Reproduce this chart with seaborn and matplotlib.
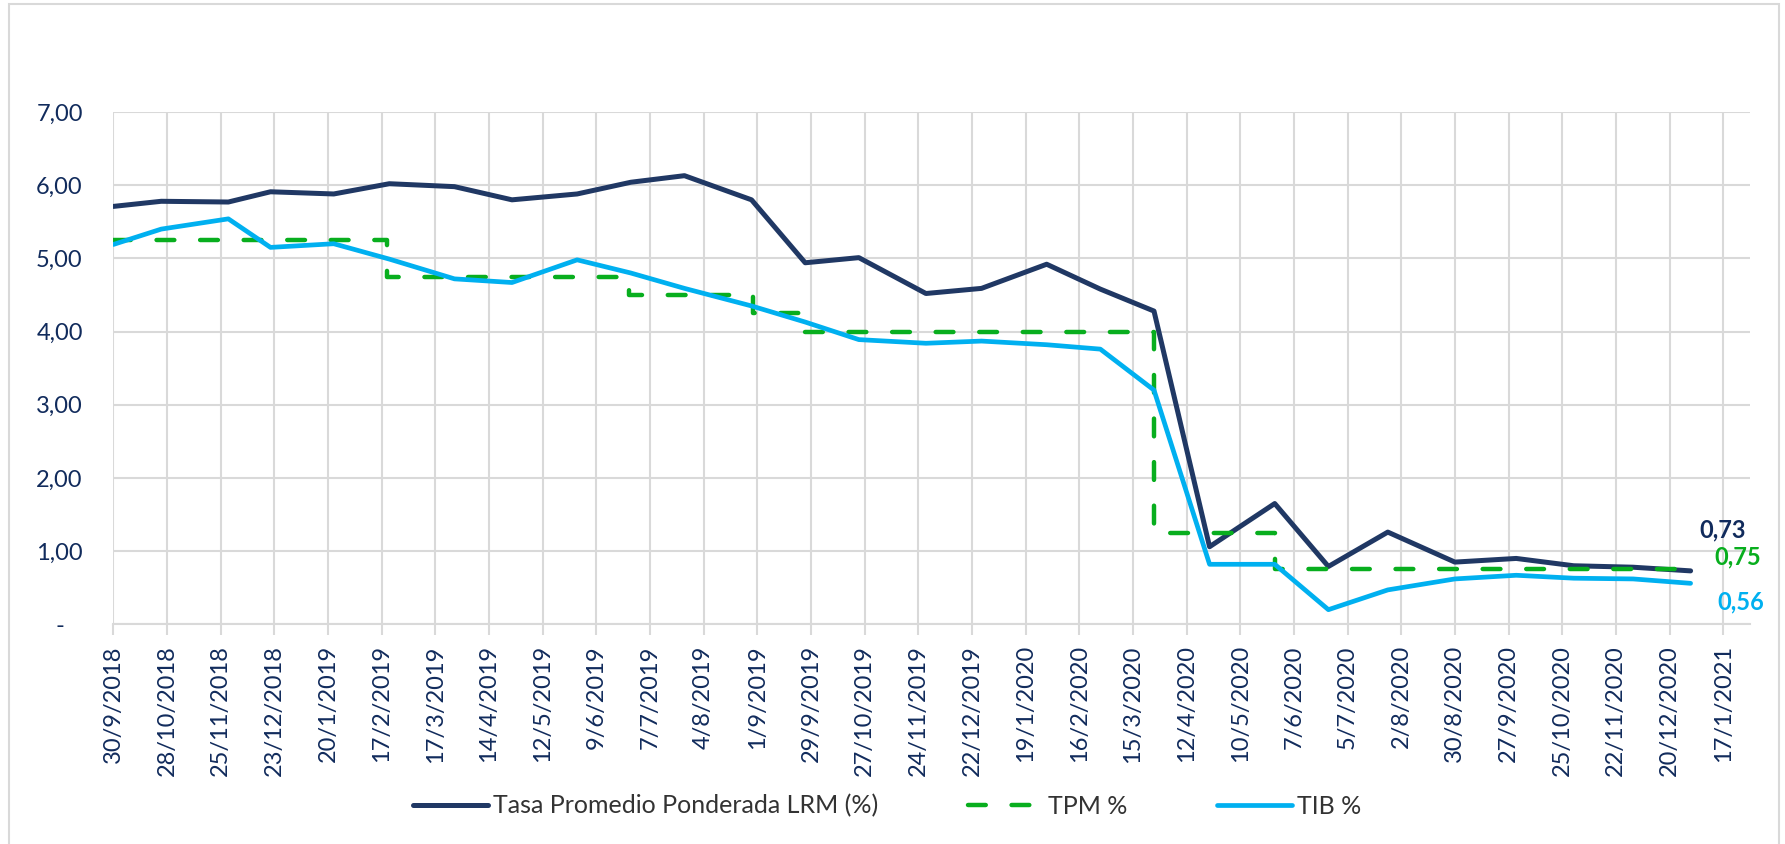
import pandas as pd
import matplotlib.pyplot as plt
from matplotlib.patches import Rectangle
import seaborn as sns

# Series
obs_dates = ["2018-09-30", "2018-10-25", "2018-11-29", "2018-12-21", "2019-01-23",
             "2019-02-21", "2019-03-27", "2019-04-26", "2019-05-30", "2019-06-27",
             "2019-07-25", "2019-08-29", "2019-09-26", "2019-10-24", "2019-11-28",
             "2019-12-27", "2020-01-30", "2020-02-27", "2020-03-26", "2020-04-24",
             "2020-05-28", "2020-06-25", "2020-07-26", "2020-08-30", "2020-10-01",
             "2020-10-31", "2020-12-01", "2020-12-31"]
lrm = [5.71, 5.78, 5.77, 5.91, 5.88, 6.02, 5.98, 5.80, 5.88, 6.04,
       6.13, 5.80, 4.94, 5.01, 4.52, 4.59, 4.92, 4.58, 4.28, 1.06,
       1.65, 0.79, 1.26, 0.85, 0.90, 0.80, 0.78, 0.73]
tib = [5.19, 5.40, 5.54, 5.15, 5.20, 4.99, 4.72, 4.67, 4.98, 4.80,
       4.59, 4.35, 4.13, 3.89, 3.84, 3.87, 3.82, 3.76, 3.20, 0.82,
       0.82, 0.20, 0.47, 0.62, 0.67, 0.63, 0.62, 0.56]

# TPM is a step series (value holds until the next change)
tpm_dates = ["2018-09-30", "2019-02-20", "2019-06-26", "2019-08-30", "2019-09-25",
             "2020-03-26", "2020-05-28", "2020-12-31"]
tpm = [5.25, 4.75, 4.50, 4.25, 4.00, 1.25, 0.75, 0.75]

y_ticks = [0, 1, 2, 3, 4, 5, 6, 7]
y_labels = ["-   ", "1,00", "2,00", "3,00", "4,00", "5,00", "6,00", "7,00"]

names = ["Tasa Promedio Ponderada LRM (%)", "TPM %", "TIB %"]
end_labels = ["0,73", "0,75", "0,56"]

navy = "#203864"
navy_txt = "#112B5C"
green = "#08AE1E"
light = "#00B0F0"
grid = "#D9D9D9"

df = pd.DataFrame({"date": pd.to_datetime(obs_dates), "lrm": lrm, "tib": tib})
tpm_df = pd.DataFrame({"date": pd.to_datetime(tpm_dates), "tpm": tpm})

sns.set_style("white")
plt.rcParams["font.family"] = ["Lato", "DejaVu Sans"]

fig = plt.figure(figsize=(17.85, 8.44), dpi=100)
ax = fig.add_axes([0.0635, 0.2603, 0.9169, 0.607])

sns.lineplot(data=df, x="date", y="lrm", ax=ax, color=navy, linewidth=3.6,
             label=names[0], solid_capstyle="round", solid_joinstyle="round")
sns.lineplot(data=tpm_df, x="date", y="tpm", ax=ax, color=green, linewidth=3.2,
             label=names[1], drawstyle="steps-post")
sns.lineplot(data=df, x="date", y="tib", ax=ax, color=light, linewidth=3.4,
             label=names[2], solid_capstyle="round", solid_joinstyle="round")

tpm_line = ax.get_lines()[1]
tpm_line.set_dashes([4.0, 5.8])
tpm_line.set_dash_capstyle("round")

# x axis: ticks every 28 days
tick_dates = pd.date_range("2018-09-30", periods=31, freq="28D")
tick_labels = [f"{d.day}/{d.month}/{d.year}" for d in tick_dates]
ax.set_xticks(tick_dates)
ax.set_xticklabels(tick_labels, rotation=90, fontsize=17, color=navy_txt)
ax.set_xlim(pd.Timestamp("2018-09-30"), pd.Timestamp("2021-01-31"))

ax.set_ylim(0, 7)
ax.set_yticks(y_ticks)
ax.set_yticklabels(y_labels, fontsize=17, color=navy_txt)

ax.grid(True, color=grid, linewidth=1.5)
ax.set_axisbelow(True)
for s in ["top", "right", "left"]:
    ax.spines[s].set_visible(False)
ax.spines["bottom"].set_color(grid)
ax.spines["bottom"].set_linewidth(1.5)
ax.tick_params(axis="x", length=8, width=1.5, color=grid, pad=7, direction="out", bottom=True)
ax.tick_params(axis="y", length=0, pad=22)
ax.set_xlabel("")
ax.set_ylabel("")

# end-of-series value labels
last = df.iloc[-1]
ax.annotate(end_labels[0], xy=(last["date"], last["lrm"]), xytext=(6.5, 29.5),
            textcoords="offset points", color=navy_txt, fontsize=17, fontweight="bold",
            va="center", ha="left")
ax.annotate(end_labels[1], xy=(tpm_df["date"].iloc[-1], tpm_df["tpm"].iloc[-1]),
            xytext=(17, 9), textcoords="offset points", color=green, fontsize=17,
            fontweight="bold", va="center", ha="left")
ax.annotate(end_labels[2], xy=(last["date"], last["tib"]), xytext=(19.5, -13.5),
            textcoords="offset points", color=light, fontsize=17, fontweight="bold",
            va="center", ha="left")

ax.get_legend().remove()
handles, labels = ax.get_legend_handles_labels()
leg = fig.legend(handles, labels, loc="center", bbox_to_anchor=(0.497, 0.045), ncol=3,
                 frameon=False, fontsize=18, handlelength=3.0, handletextpad=0.2,
                 columnspacing=3.6)
for t in leg.get_texts():
    t.set_color("#333333")

# light border round the chart area
fig.patches.append(Rectangle((0.0052, -0.02), 0.9913, 1.0153, transform=fig.transFigure,
                             fill=False, edgecolor=grid, linewidth=1.5))

fig.savefig("out.png", dpi=100)
